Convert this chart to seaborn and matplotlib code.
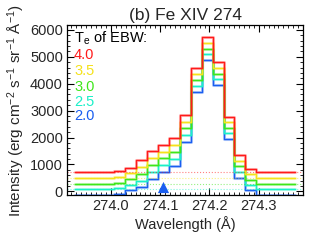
import matplotlib
matplotlib.use("Agg")
import matplotlib.pyplot as plt
from matplotlib.ticker import MultipleLocator
import seaborn as sns
import numpy as np
import pandas as pd

# wavelength of each spectral pixel (A)
wave = [273.9274, 273.9497, 273.9720, 273.9943, 274.0166, 274.0389, 274.0612,
        274.0835, 274.1058, 274.1281, 274.1504, 274.1727, 274.1950, 274.2173,
        274.2396, 274.2619, 274.2842, 274.3065, 274.3288, 274.3511, 274.3734]

# intensity for each EBW temperature
i_40 = [720, 720, 720, 720, 760, 880, 1150, 1500, 1740, 1970, 2840, 4600, 5730,
        4810, 2770, 1350, 830, 725, 725, 725, 725]
i_35 = [500, 500, 500, 500, 535, 670, 900, 1240, 1480, 1720, 2590, 4360, 5520,
        4600, 2560, 1140, 630, 500, 500, 500, 500]
i_30 = [285, 285, 285, 285, 320, 460, 650, 980, 1220, 1460, 2340, 4140, 5290,
        4370, 2350, 925, 430, 285, 285, 285, 285]
i_25 = [75, 75, 75, 75, 105, 250, 400, 720, 960, 1200, 2090, 3910, 5090,
        4165, 2150, 715, 230, 80, 80, 80, 80]
i_20 = [-130, -130, -130, -130, -105, 40, 160, 460, 700, 950, 1850, 3690, 4865,
        3950, 1940, 500, 35, -130, -130, -130, -130]

temps = ["2.0", "2.5", "3.0", "3.5", "4.0"]
series = [i_20, i_25, i_30, i_35, i_40]
backgrounds = [-130, 78, 285, 500, 722]
colors = ["#1a5ef0", "#1af0c8", "#3ee61a", "#f5e21a", "#ff1a1a"]

marker_wave = [274.105]
marker_int = [160]

sns.set_theme(style="ticks")
plt.rcParams["font.family"] = ["Liberation Sans", "DejaVu Sans"]
plt.rcParams["mathtext.fontset"] = "custom"
plt.rcParams["mathtext.rm"] = "Liberation Sans"
plt.rcParams["mathtext.it"] = "Liberation Sans"

fig = plt.figure(figsize=(3.27, 2.46), dpi=100)
ax = fig.add_axes([0.205, 0.207, 0.722, 0.691])

for t, vals, bg, c in zip(temps, series, backgrounds, colors):
    ax.axhline(bg, color=c, ls=":", lw=0.8, alpha=0.55)
    df = pd.DataFrame({"wave": wave, "inten": vals})
    sns.lineplot(data=df, x="wave", y="inten", ax=ax, color=c, lw=2.2,
                 alpha=0.3, drawstyle="steps-mid", sort=False)
    sns.lineplot(data=df, x="wave", y="inten", ax=ax, color=c, lw=1.0,
                 drawstyle="steps-mid", sort=False)

sns.scatterplot(x=marker_wave, y=marker_int, ax=ax, marker="^", s=65,
                color=colors[0], edgecolor=colors[0], linewidth=0, zorder=5)

ax.set_xlim(273.911, 274.39)
ax.set_ylim(-140, 6180)
ax.xaxis.set_major_locator(MultipleLocator(0.1))
ax.xaxis.set_minor_locator(MultipleLocator(0.01))
ax.yaxis.set_major_locator(MultipleLocator(1000))
ax.yaxis.set_minor_locator(MultipleLocator(200))
ax.set_xticks([274.0, 274.1, 274.2, 274.3])
ax.set_xticklabels(["274.0", "274.1", "274.2", "274.3"])
ax.tick_params(which="both", direction="in", top=True, right=True,
               labelsize=10.5, color="black", pad=3)
ax.tick_params(which="major", length=5, width=0.8)
ax.tick_params(which="minor", length=2.5, width=0.6)
for s in ax.spines.values():
    s.set_color("black")
    s.set_linewidth(0.9)

ax.set_title("(b) Fe XIV 274", fontsize=12.5, pad=4)
ax.set_xlabel("Wavelength (Å)", fontsize=10.5, labelpad=2)
ax.set_ylabel("Intensity (erg cm$^{-2}$ s$^{-1}$ sr$^{-1}$ Å$^{-1}$)",
              fontsize=11, labelpad=2)

ax.text(0.03, 0.924, "T$_e$ of EBW:", transform=ax.transAxes, fontsize=10.5,
        va="center", ha="left", color="black")
ypos = [0.465, 0.547, 0.635, 0.729, 0.824]
for t, c, yy in zip(temps, colors, ypos):
    ax.text(0.03, yy, t, transform=ax.transAxes, fontsize=10.5,
            va="center", ha="left", color=c)

fig.savefig("out.png", dpi=100)
